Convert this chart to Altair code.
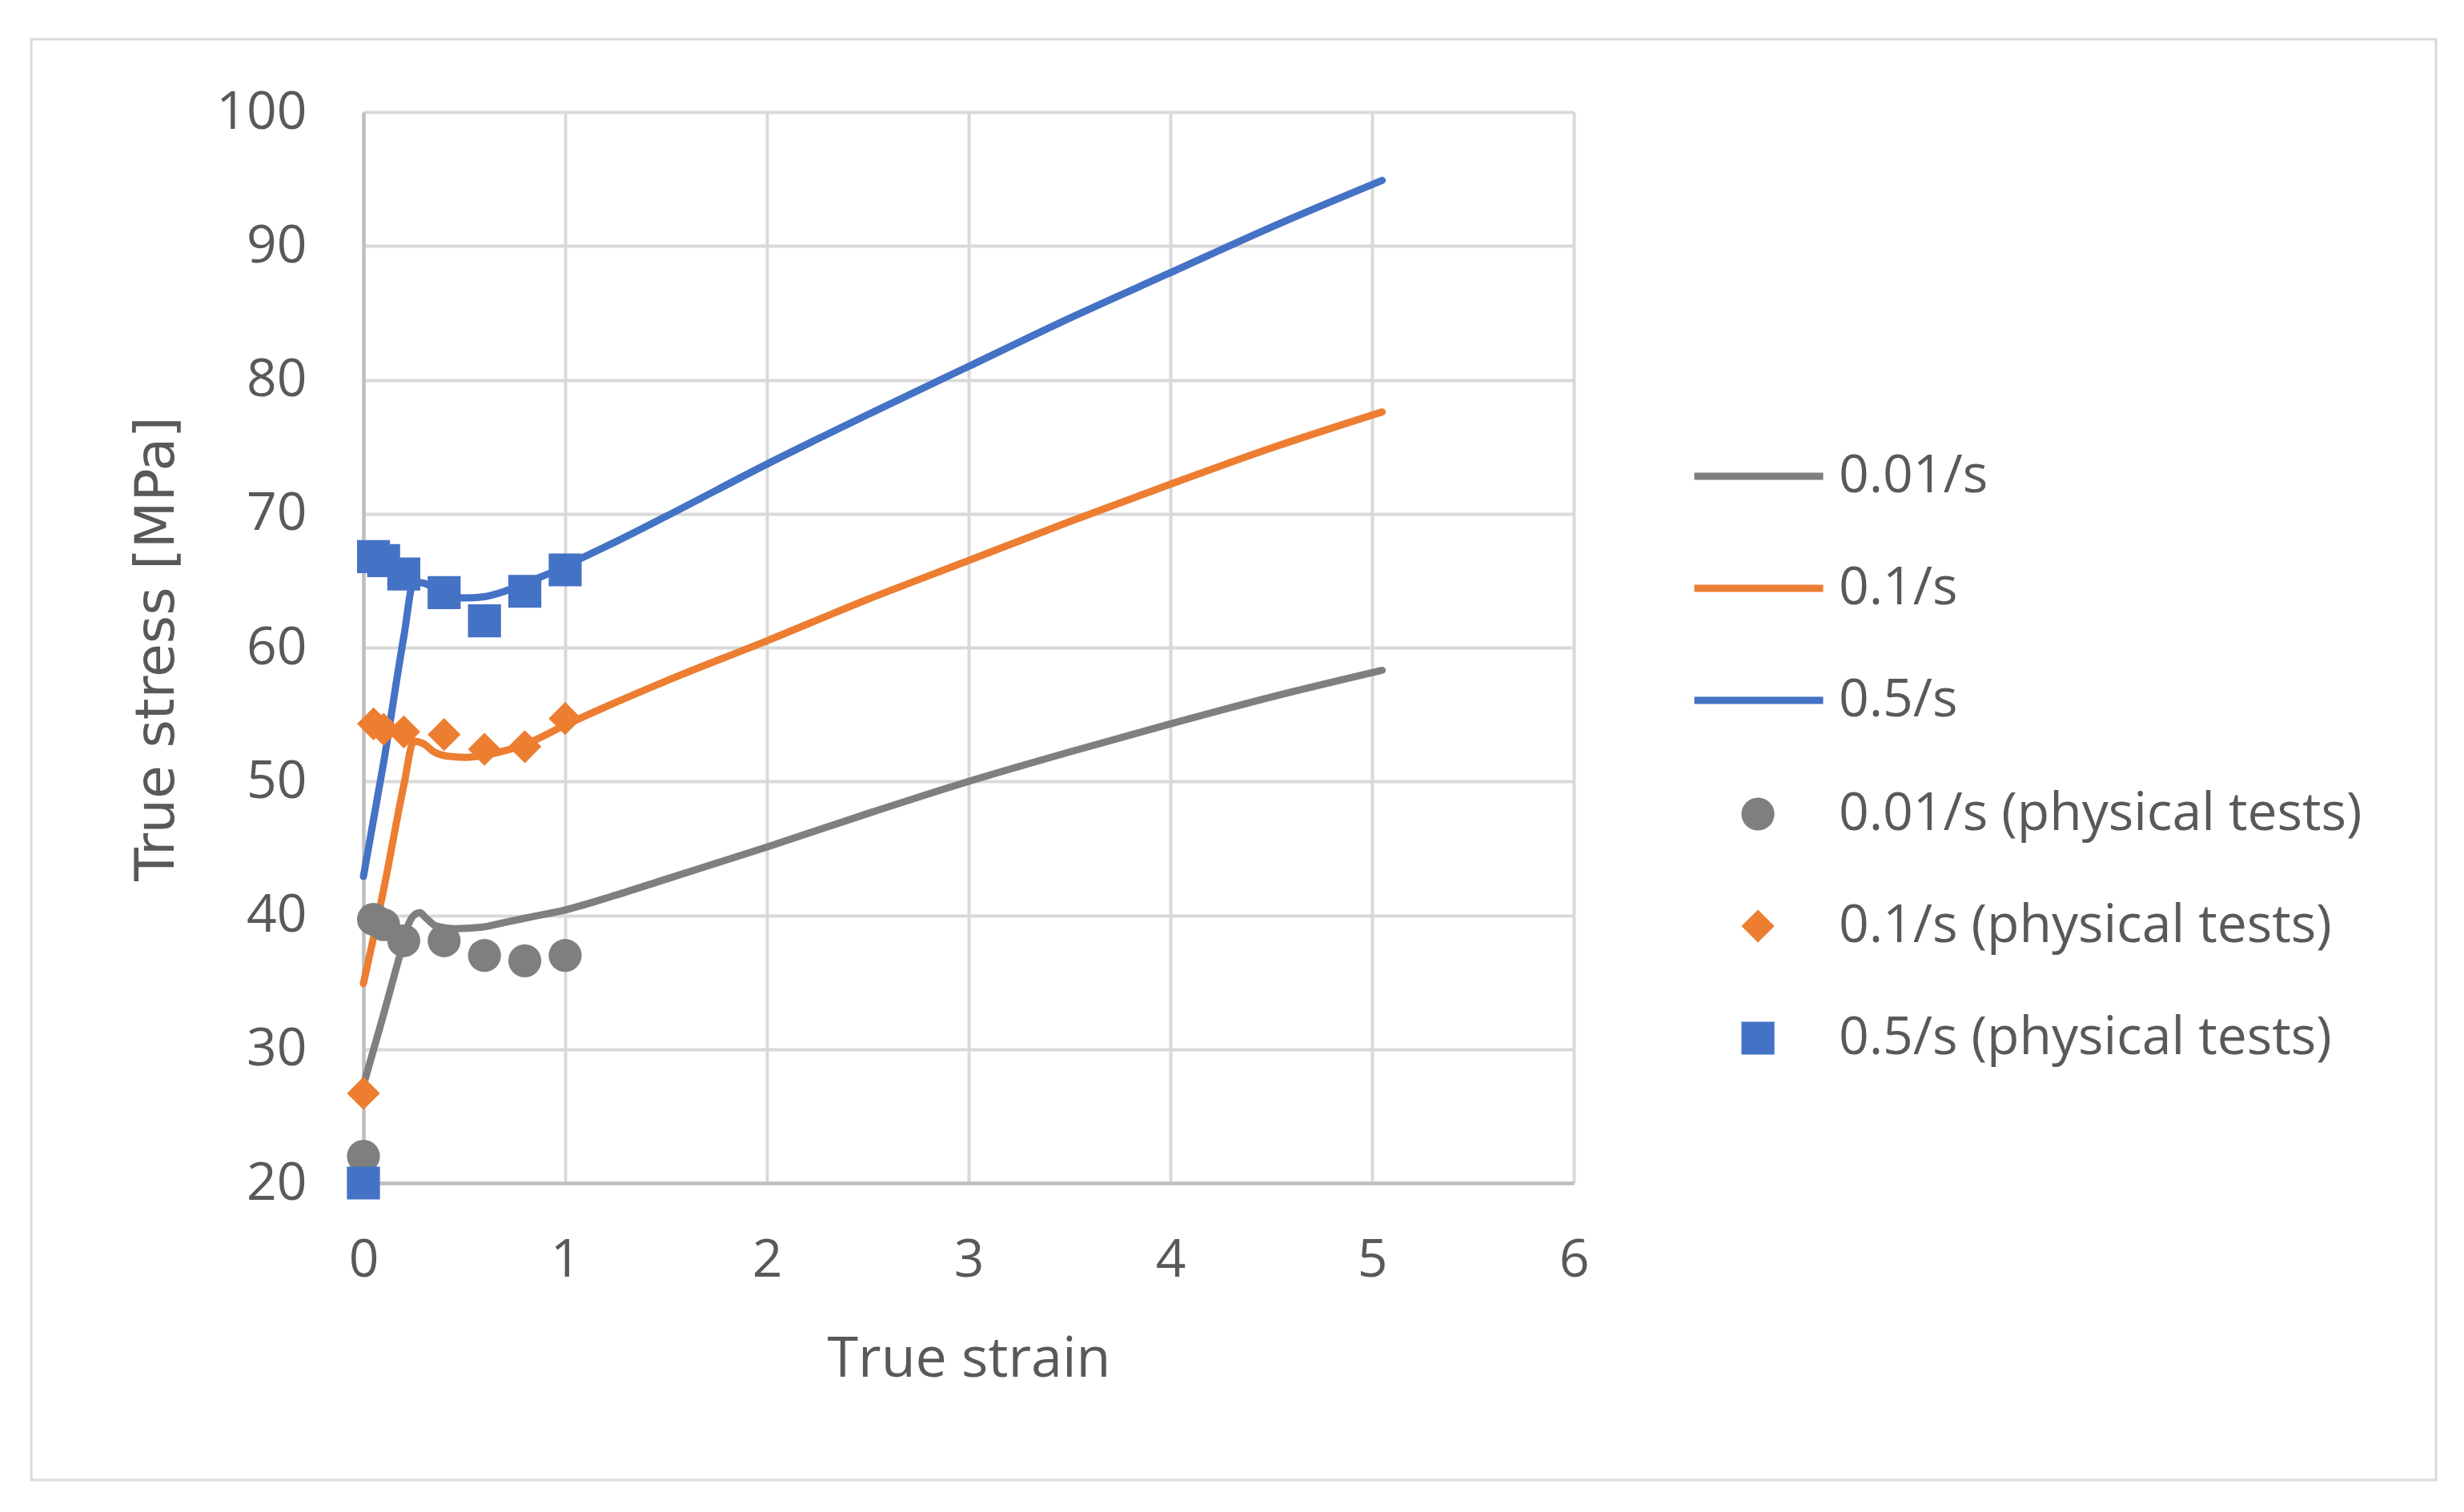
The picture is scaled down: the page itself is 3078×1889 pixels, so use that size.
import altair as alt
import pandas as pd

# ---- simulation curves (true strain, true stress MPa) ----
sim_labels = ["0.01/s", "0.1/s", "0.5/s"]
strain_001 = [0.0, 0.1, 0.18, 0.22, 0.25, 0.28, 0.31, 0.36, 0.45, 0.58, 0.71, 0.84, 1.0,
              1.25, 1.5, 2.0, 2.5, 3.0, 3.5, 4.0, 4.5, 5.05]
stress_001 = [27.3, 32.6, 37.0, 39.2, 40.0, 40.2, 39.8, 39.2, 39.0, 39.1, 39.5, 39.9, 40.4,
              41.5, 42.7, 45.1, 47.6, 50.0, 52.2, 54.3, 56.3, 58.3]
strain_01 = [0.0, 0.1, 0.2, 0.25, 0.3, 0.35, 0.41, 0.51, 0.65, 0.79, 1.0,
             1.25, 1.5, 2.0, 2.5, 3.0, 3.5, 4.0, 4.5, 5.05]
stress_01 = [34.9, 41.9, 49.7, 53.0, 52.8, 52.2, 51.9, 51.8, 52.1, 52.7, 54.2,
             55.9, 57.5, 60.5, 63.6, 66.5, 69.4, 72.2, 74.9, 77.6]
strain_05 = [0.0, 0.1, 0.2, 0.25, 0.3, 0.4, 0.5, 0.6, 0.7, 0.8, 0.9, 1.0,
             1.25, 1.5, 2.0, 2.5, 3.0, 3.5, 4.0, 4.5, 5.05]
stress_05 = [42.9, 51.4, 60.8, 64.9, 64.8, 64.0, 63.7, 63.8, 64.2, 64.8, 65.4, 66.1,
             67.9, 69.8, 73.7, 77.4, 81.0, 84.6, 88.0, 91.4, 94.9]

# ---- physical tests ----
test_labels = ["0.01/s (physical tests)", "0.1/s (physical tests)", "0.5/s (physical tests)"]
test_strain = [0.0, 0.05, 0.1, 0.2, 0.4, 0.6, 0.8, 1.0]
test_001 = [22.0, 39.7, 39.3, 38.1, 38.1, 37.0, 36.6, 37.0]
test_01 = [26.7, 54.3, 53.9, 53.7, 53.5, 52.4, 52.6, 54.7]
test_05 = [20.0, 66.8, 66.5, 65.5, 64.1, 62.0, 64.2, 65.8]

colors = ["#7F7F7F", "#ED7D31", "#4472C4"]
shapes = ["circle", "diamond", "square"]
x_ticks = [0, 1, 2, 3, 4, 5, 6]
y_ticks = [20, 30, 40, 50, 60, 70, 80, 90, 100]

TEXT = "#595959"

sim_rows = []
for lab, xs, ys in zip(sim_labels, [strain_001, strain_01, strain_05],
                       [stress_001, stress_01, stress_05]):
    for i, (a, b) in enumerate(zip(xs, ys)):
        sim_rows.append({"series": lab, "strain": a, "stress": b, "order": i})
sim_df = pd.DataFrame(sim_rows)

test_rows = []
for lab, ys in zip(test_labels, [test_001, test_01, test_05]):
    for a, b in zip(test_strain, ys):
        test_rows.append({"series": lab, "strain": a, "stress": b})
test_df = pd.DataFrame(test_rows)

x_enc = alt.X("strain:Q",
              scale=alt.Scale(domain=[0, 6], nice=False, zero=False),
              axis=alt.Axis(values=x_ticks, format="d", title="True strain",
                            labelFont="Open Sans", labelFontSize=66, labelColor=TEXT,
                            labelPadding=64, ticks=False, labelFlush=False,
                            titleFont="Open Sans", titleFontSize=70, titleFontWeight="normal",
                            titleColor=TEXT, titleY=220, titleBaseline="middle"))
y_enc = alt.Y("stress:Q",
              scale=alt.Scale(domain=[20, 100], nice=False, zero=False),
              axis=alt.Axis(values=y_ticks, format="d", title="True stress [MPa]",
                            labelFont="Open Sans", labelFontSize=66, labelColor=TEXT,
                            labelPadding=71, ticks=False, labelFlush=False,
                            titleFont="DejaVu Sans", titleFontSize=68, titleFontWeight="normal",
                            titleColor=TEXT, titleX=-258, titleY=670,
                            titleAngle=270, titleAlign="center", titleBaseline="middle"))

border = alt.Chart(pd.DataFrame({"k": [0]})).mark_rect(
    fillOpacity=0, stroke="#D9D9D9", strokeWidth=3
).encode(
    x=alt.value(-415), x2=alt.value(2589), y=alt.value(-91), y2=alt.value(1709)
)

lines = alt.Chart(sim_df).mark_line(
    strokeWidth=9, interpolate="monotone", strokeCap="round", strokeJoin="round"
).encode(
    x=x_enc, y=y_enc,
    order="order:Q",
    color=alt.Color("series:N",
                    scale=alt.Scale(domain=sim_labels, range=colors),
                    legend=alt.Legend(title=None, orient="none", direction="vertical",
                                      legendX=1658, legendY=385, padding=0,
                                      symbolType="stroke", symbolSize=25921,
                                      symbolStrokeWidth=9, labelOffset=15,
                                      clipHeight=140, rowPadding=0,
                                      labelFont="Open Sans", labelFontSize=66,
                                      labelColor=TEXT, labelLimit=1200))
)

pt_legend = alt.Legend(title=None, orient="none", direction="vertical",
                       legendX=1709, legendY=807, padding=0,
                       symbolSize=1700, symbolStrokeWidth=0, labelOffset=68,
                       clipHeight=140, rowPadding=0,
                       labelFont="Open Sans", labelFontSize=66,
                       labelColor=TEXT, labelLimit=1200)

points = alt.Chart(test_df).mark_point(filled=True, size=1700, opacity=1).encode(
    x=x_enc, y=y_enc,
    color=alt.Color("series:N", scale=alt.Scale(domain=test_labels, range=colors),
                    legend=pt_legend),
    shape=alt.Shape("series:N", scale=alt.Scale(domain=test_labels, range=shapes),
                    legend=pt_legend),
)

chart = alt.layer(border, lines, points).resolve_scale(
    color="independent", shape="independent"
).properties(
    width=1512, height=1338,
    autosize=alt.AutoSizeParams(type="none"),
    padding={"left": 446, "top": 132, "right": 1100, "bottom": 395},
    background="white",
).configure_view(stroke="transparent").configure_axis(
    gridColor="#D9D9D9", gridWidth=4, domainColor="#BFBFBF", domainWidth=4.5
)

chart.save("out.html", embed_options={"renderer": "svg", "actions": False})
